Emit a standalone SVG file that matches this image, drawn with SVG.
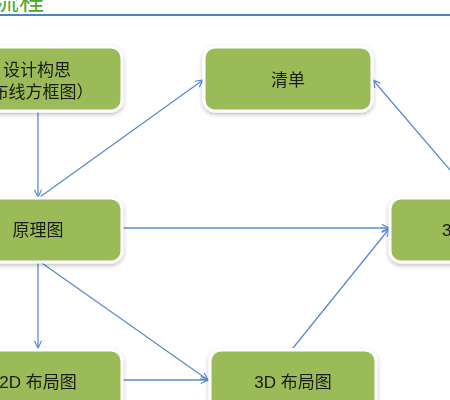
<svg xmlns="http://www.w3.org/2000/svg" width="450" height="400" viewBox="0 0 450 400">
<defs>
<style>
.box{fill:#9BBB59;stroke:#FFFFFF;stroke-width:3}
.lbl{font-family:"Liberation Sans","Noto Sans CJK SC",sans-serif;font-size:17px;fill:#1a1a1a;text-anchor:middle}
.con{stroke:#5B8BD0;stroke-width:1.3;fill:none;marker-end:url(#arr)}
</style>
<filter id="sh" x="-20%" y="-20%" width="140%" height="150%">
<feDropShadow dx="0" dy="2" stdDeviation="2" flood-color="#000" flood-opacity="0.25"/>
</filter>
<marker id="arr" viewBox="0 0 10 10" refX="9" refY="5" markerWidth="9" markerHeight="9" orient="auto" markerUnits="userSpaceOnUse">
<path d="M1,1 L9,5 L1,9" fill="none" stroke="#5B8BD0" stroke-width="1.3"/>
</marker>
</defs>
<rect x="0" y="0" width="450" height="400" fill="#FFFFFF"/>
<g id="title">
<text x="-6" y="10" font-family="Liberation Sans,'Noto Sans CJK SC',sans-serif" font-size="25" fill="#4EA72E">流程</text>
<line x1="0" y1="15" x2="450" y2="15" stroke="#4F81BD" stroke-width="2"/>
</g>
<g id="connectors">
<line class="con" x1="38" y1="111" x2="38" y2="197"/>
<line class="con" x1="40" y1="197" x2="203" y2="80"/>
<line class="con" x1="122" y1="228" x2="389" y2="228"/>
<line class="con" x1="38" y1="261" x2="38" y2="348"/>
<line class="con" x1="39" y1="261" x2="208" y2="380"/>
<line class="con" x1="122" y1="380" x2="208" y2="380"/>
<line class="con" x1="293" y1="348" x2="389" y2="229"/>
<line class="con" x1="474" y1="198" x2="373" y2="80"/>
</g>
<g id="n1" filter="url(#sh)">
<rect class="box" x="-60" y="47" width="182" height="64" rx="11"/>
<text class="lbl" x="37" y="76">设计构思</text>
<text class="lbl" x="34" y="98">（布线方框图）</text>
</g>
<g id="n2" filter="url(#sh)">
<rect class="box" x="204" y="47" width="168" height="64" rx="11"/>
<text class="lbl" x="288" y="86">清单</text>
</g>
<g id="n3" filter="url(#sh)">
<rect class="box" x="-60" y="198" width="182" height="64" rx="11"/>
<text class="lbl" x="38" y="236">原理图</text>
</g>
<g id="n4" filter="url(#sh)">
<rect class="box" x="390" y="198" width="170" height="64" rx="11"/>
<text class="lbl" x="442" y="236" style="text-anchor:start">3D</text>
</g>
<g id="n5" filter="url(#sh)">
<rect class="box" x="-60" y="350" width="182" height="64" rx="11"/>
<text class="lbl" x="38" y="388">2D 布局图</text>
</g>
<g id="n6" filter="url(#sh)">
<rect class="box" x="210" y="350" width="166" height="64" rx="11"/>
<text class="lbl" x="293" y="388">3D 布局图</text>
</g>
</svg>
